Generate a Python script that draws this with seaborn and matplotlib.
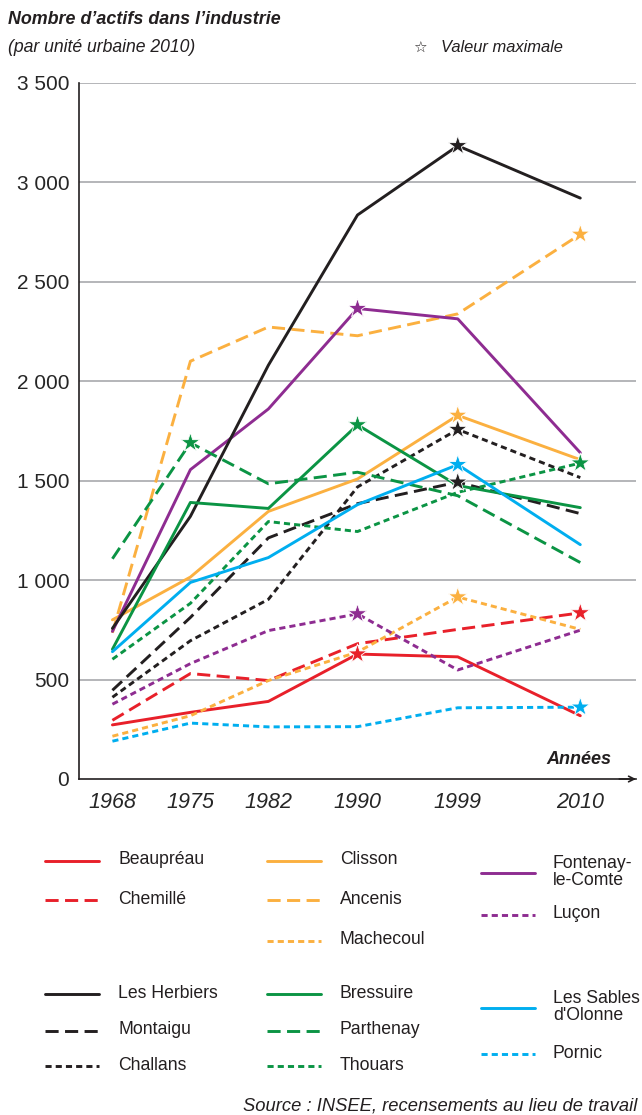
import numpy as np
import pandas as pd
import matplotlib
matplotlib.use("Agg")
import matplotlib.pyplot as plt
import seaborn as sns
from matplotlib import font_manager
from matplotlib.lines import Line2D

# Données (actifs dans l'industrie, par unité urbaine)
years = [1968, 1975, 1982, 1990, 1999, 2010]
beaupreau = [272, 335, 390, 628, 614, 318]
chemille = [295, 530, 495, 680, 752, 835]
clisson = [800, 1015, 1345, 1508, 1828, 1605]
ancenis = [735, 2100, 2272, 2228, 2338, 2738]
machecoul = [215, 318, 495, 638, 915, 752]
fontenay = [742, 1555, 1860, 2365, 2313, 1640]
lucon = [376, 580, 746, 830, 548, 748]
herbiers = [757, 1320, 2080, 2835, 3183, 2920]
montaigu = [446, 812, 1212, 1384, 1492, 1334]
challans = [411, 695, 903, 1468, 1757, 1515]
bressuire = [652, 1390, 1360, 1780, 1475, 1364]
parthenay = [1107, 1690, 1484, 1542, 1424, 1088]
thouars = [602, 883, 1294, 1244, 1441, 1588]
sables = [640, 988, 1113, 1379, 1580, 1178]
pornic = [190, 281, 262, 263, 358, 361]

y_ticks = [0, 500, 1000, 1500, 2000, 2500, 3000, 3500]
y_tick_labels = ["0", "500", "1 000", "1 500", "2 000", "2 500", "3 000", "3 500"]

RED, ORANGE, PURPLE = "#e8202a", "#fbb040", "#8e2c91"
BLACK, GREEN, BLUE = "#231f20", "#0b9444", "#00aeef"
SOLID, DASH, DOT = "", (4.5, 2.2), (2.1, 1.4)

# (nom, valeurs, couleur, style de trait)
series = [
    ("Beaupréau", beaupreau, RED, SOLID),
    ("Chemillé", chemille, RED, DASH),
    ("Clisson", clisson, ORANGE, SOLID),
    ("Ancenis", ancenis, ORANGE, DASH),
    ("Machecoul", machecoul, ORANGE, DOT),
    ("Fontenay-\nle-Comte", fontenay, PURPLE, SOLID),
    ("Luçon", lucon, PURPLE, DOT),
    ("Les Herbiers", herbiers, BLACK, SOLID),
    ("Montaigu", montaigu, BLACK, DASH),
    ("Challans", challans, BLACK, DOT),
    ("Bressuire", bressuire, GREEN, SOLID),
    ("Parthenay", parthenay, GREEN, DASH),
    ("Thouars", thouars, GREEN, DOT),
    ("Les Sables\nd'Olonne", sables, BLUE, SOLID),
    ("Pornic", pornic, BLUE, DOT),
]

rows = []
for name, vals, col, st in series:
    for yr, v in zip(years, vals):
        rows.append({"ville": name, "annee": yr, "actifs": v})
df = pd.DataFrame(rows)
palette = {s[0]: s[2] for s in series}
dashes = {s[0]: s[3] for s in series}

# max de chaque série -> étoile
idx = df.groupby("ville")["actifs"].idxmax()
df_max = df.loc[idx]

sns.set_style("white")
try:
    font_manager.findfont("Liberation Sans Narrow", fallback_to_default=False)
    NARROW = "Liberation Sans Narrow"
    k = 1 / 0.84
except ValueError:
    NARROW = "Liberation Sans"
    k = 1.0
plt.rcParams["font.family"] = ["Liberation Sans", "DejaVu Sans"]
plt.rcParams["text.color"] = "#231f20"

W, H = 642, 1115
fig = plt.figure(figsize=(W / 100, H / 100), dpi=100)
ax = fig.add_axes([79 / W, 1 - 779 / H, (636 - 79) / W, (779 - 82.7) / H])

sns.lineplot(data=df, x="annee", y="actifs", hue="ville", style="ville",
             palette=palette, dashes=dashes, linewidth=2.1, legend=False,
             ax=ax, zorder=3)
sns.scatterplot(data=df_max, x="annee", y="actifs", hue="ville", palette=palette,
                marker="*", s=210, edgecolor="white", linewidth=0.6,
                legend=False, ax=ax, zorder=4, clip_on=False)

ax.set_xlim(1965, 2015)
ax.set_ylim(0, 3500)
ax.set_xticks(years)
ax.set_xticklabels([str(y) for y in years], fontsize=15.5, style="italic")
ax.set_yticks(y_ticks)
ax.set_yticklabels(y_tick_labels, fontsize=15)
ax.tick_params(axis="both", direction="out", length=3, width=1, color=BLACK, pad=4)
ax.tick_params(axis="x", pad=6)
ax.set_xlabel("")
ax.set_ylabel("")
for yv in y_ticks[1:]:
    ax.axhline(yv, color="#a0a2a5", lw=1.1, zorder=1)
for s in ["top", "right"]:
    ax.spines[s].set_visible(False)
for s in ["left", "bottom"]:
    ax.spines[s].set_color(BLACK)
    ax.spines[s].set_linewidth(1.2)
ax.annotate("", xy=(1.0, 0), xytext=(0.97, 0), xycoords="axes fraction",
            arrowprops=dict(arrowstyle="->", color=BLACK, lw=1.2,
                            shrinkA=0, shrinkB=0, mutation_scale=10))


def fx(px):
    return px / W


def fy(py):
    return 1 - py / H


fig.text(fx(611), fy(760), "Années", fontsize=13, fontweight="bold",
         style="italic", ha="right", va="center")

# titres
fig.text(fx(8), fy(20), "Nombre d’actifs dans l’industrie", family=NARROW,
         fontsize=12.9 * k, fontweight="bold", style="italic", va="center")
fig.text(fx(8), fy(47), "(par unité urbaine 2010)", family=NARROW,
         fontsize=12.7 * k, style="italic", va="center")
fig.text(fx(420), fy(48), "☆", family=["DejaVu Sans"], fontsize=11,
         ha="center", va="center")
fig.text(fx(441), fy(47), "Valeur maximale", family=NARROW,
         fontsize=11.9 * k, style="italic", va="center")

# légende
leg_pos = {
    "Beaupréau": (45, 861), "Chemillé": (45, 900),
    "Clisson": (267, 861), "Ancenis": (267, 900), "Machecoul": (267, 941),
    "Fontenay-\nle-Comte": (481, 873), "Luçon": (481, 915),
    "Les Herbiers": (45, 994), "Montaigu": (45, 1031), "Challans": (45, 1066),
    "Bressuire": (267, 994), "Parthenay": (267, 1031), "Thouars": (267, 1066),
    "Les Sables\nd'Olonne": (481, 1008), "Pornic": (481, 1054),
}
for name, vals, col, st in series:
    x0, y0 = leg_pos[name]
    ln = Line2D([fx(x0), fx(x0 + 54)], [fy(y0), fy(y0)], color=col, lw=2.1,
                transform=fig.transFigure)
    if st:
        ln.set_dashes(st)
    fig.add_artist(ln)
    tx = x0 + 73 if x0 < 400 else x0 + 72
    fig.text(fx(tx), fy(y0 - 1), name, family=NARROW, fontsize=12.7 * k,
             va="center", ha="left", linespacing=1.05)

fig.text(fx(637), fy(1106), "Source : INSEE, recensements au lieu de travail",
         family=NARROW, fontsize=13.2 * k, style="italic", ha="right", va="center")

fig.savefig("out.png", dpi=100)
